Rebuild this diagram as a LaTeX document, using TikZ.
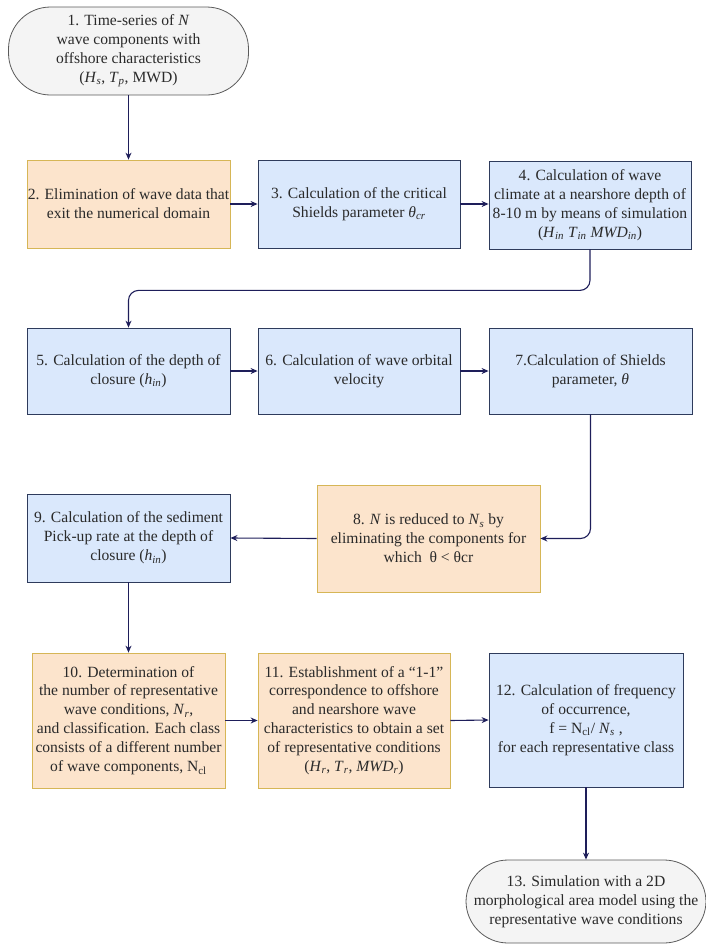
\documentclass[tikz,border=0pt]{standalone}
\usepackage{fontspec}
\setmainfont{LiberationSerif}[Extension=.ttf,
  UprightFont=*-Regular, ItalicFont=*-Italic,
  BoldFont=*-Bold, BoldItalicFont=*-BoldItalic]
\usetikzlibrary{arrows.meta}

\definecolor{peachfill}{HTML}{FCE4CC}
\definecolor{peachline}{HTML}{D6B656}
\definecolor{bluefill}{HTML}{DAE8FC}
\definecolor{blueline}{HTML}{2E3B5C}
\definecolor{termfill}{HTML}{F4F4F4}
\definecolor{termline}{HTML}{5A5A5A}
\definecolor{flowline}{HTML}{1E1E5A}
\definecolor{inktext}{HTML}{2A2A2A}

% italic symbol with italic subscript
\newcommand\varsub[2]{\textit{#1}\textsubscript{\textit{#2}}}

\begin{document}
\begin{tikzpicture}[x=1pt,y=-1pt,
  box/.style={draw, line width=0.8pt, inner sep=0pt, align=center,
    font=\fontsize{15.6}{18.9}\selectfont, text=inktext},
  orangebox/.style={box, fill=peachfill, draw=peachline},
  bluebox/.style={box, fill=bluefill, draw=blueline},
  termbox/.style={box, fill=termfill, draw=termline, rounded corners=42pt},
  flow/.style={draw=flowline, line width=1.1pt,
    -{Stealth[length=7pt,width=6pt]}, rounded corners=10pt}]

\useasboundingbox (0,0) rectangle (706,946);

% start terminal
\node[termbox, minimum width=240pt, minimum height=88pt] (n1) at (128.5,51)
  {1. Time-series of \textit{N}\\wave components with\\offshore characteristics\\(\varsub{H}{s}, \varsub{T}{p}, MWD)};

% row 2
\node[orangebox, minimum width=203pt, minimum height=88pt] (n2) at (128.5,204)
  {2. Elimination of wave data that\\exit the numerical domain};
\node[bluebox, minimum width=202pt, minimum height=88pt] (n3) at (359,204)
  {3. Calculation of the critical\\Shields parameter \varsub{θ}{cr}};
\node[bluebox, minimum width=202pt, minimum height=88pt] (n4) at (590,205)
  {4. Calculation of wave\\climate at a nearshore depth of\\8-10 m by means of simulation\\(\varsub{H}{in} \varsub{T}{in} \varsub{MWD}{in})};

% row 3
\node[bluebox, minimum width=203pt, minimum height=86pt] (n5) at (128.5,371)
  {5. Calculation of the depth of\\closure (\varsub{h}{in})};
\node[bluebox, minimum width=202pt, minimum height=86pt] (n6) at (359,371)
  {6. Calculation of wave orbital\\velocity};
\node[bluebox, minimum width=203pt, minimum height=86pt] (n7) at (590.5,371)
  {7.Calculation of Shields\\parameter, \textit{θ}};

% row 4
\node[bluebox, minimum width=203pt, minimum height=88pt] (n9) at (128.5,538)
  {9. Calculation of the sediment\\Pick-up rate at the depth of\\closure (\varsub{h}{in})};
\node[orangebox, minimum width=223pt, minimum height=107pt] (n8) at (428.5,538.5)
  {8. \textit{N} is reduced to \varsub{N}{s} by\\eliminating the components for\\which\ \ θ < θcr};

% row 5
\node[orangebox, minimum width=193pt, minimum height=135pt] (n10) at (128.5,720.5)
  {10. Determination of\\the number of representative\\wave conditions, \varsub{N}{r},\\and classification. Each class\\consists of a different number\\of wave components, N\textsubscript{cl}};
\node[orangebox, minimum width=192pt, minimum height=135pt] (n11) at (354,720.5)
  {11. Establishment of a “1-1”\\correspondence to offshore\\and nearshore wave\\characteristics to obtain a set\\of representative conditions\\(\varsub{H}{r}, \varsub{T}{r}, \varsub{MWD}{r})};
\node[bluebox, minimum width=194pt, minimum height=134pt] (n12) at (586,720)
  {12. Calculation of frequency\\of occurrence,\\f = N\textsubscript{cl}/ \varsub{N}{s} ,\\for each representative class};

% end terminal
\node[termbox, minimum width=240pt, minimum height=83pt] (n13) at (586,901.5)
  {13. Simulation with a 2D\\morphological area model using the\\representative wave conditions};

% connectors
\draw[flow] (n1.south) -- (n2.north);
\draw[flow] (n2.east) -- (n3.west);
\draw[flow] (n3.east) -- (n4.west |- n3.east);
\draw[flow] (n4.south) -- ++(0,41) -| (n5.north);
\draw[flow] (n5.east) -- (n6.west);
\draw[flow] (n6.east) -- (n7.west);
\draw[flow] (n7.south) |- (n8.east);
\draw[flow] (n8.west) -- (n9.east);
\draw[flow] (n9.south) -- (n10.north);
\draw[flow] (n10.east) -- (n11.west);
\draw[flow] (n11.east) -- (n12.west);
\draw[flow] (n12.south) -- (n13.north);
\end{tikzpicture}
\end{document}
